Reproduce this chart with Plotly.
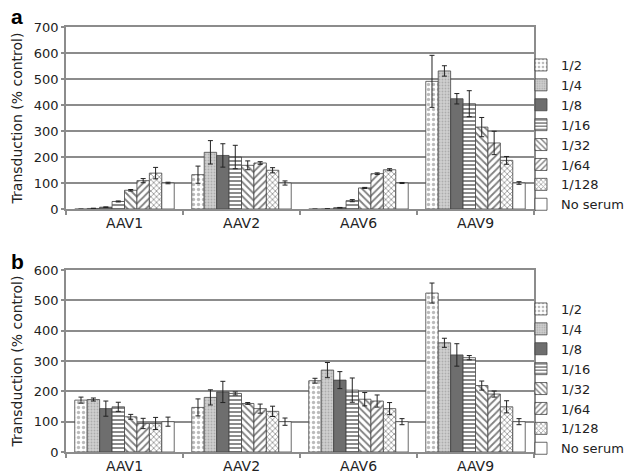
import plotly.graph_objects as go

categories = ["AAV1", "AAV2", "AAV6", "AAV9"]
series_names = ["1/2", "1/4", "1/8", "1/16", "1/32", "1/64", "1/128", "No serum"]

# Panel a values (rows: series, columns: AAV1, AAV2, AAV6, AAV9)
a_vals = [
    [-1, 132, -1, 491],
    [2, 218, 0, 531],
    [7, 206, 5, 424],
    [29, 200, 32, 405],
    [72, 168, 81, 315],
    [109, 177, 136, 254],
    [138, 149, 151, 187],
    [100, 100, 100, 100],
]
a_err = [
    [1, 33, 1, 100],
    [1, 45, 1, 20],
    [1, 45, 1, 20],
    [2, 45, 4, 50],
    [3, 17, 2, 37],
    [8, 5, 3, 45],
    [22, 10, 4, 15],
    [3, 8, 2, 5],
]
# Panel b values
b_vals = [
    [171, 147, 235, 524],
    [173, 180, 270, 360],
    [143, 198, 237, 320],
    [149, 193, 204, 311],
    [116, 160, 174, 219],
    [94, 143, 168, 191],
    [94, 134, 143, 149],
    [100, 100, 100, 100],
]
b_err = [
    [10, 28, 8, 33],
    [5, 25, 25, 15],
    [25, 35, 28, 37],
    [15, 5, 40, 7],
    [8, 3, 22, 15],
    [17, 15, 20, 10],
    [20, 17, 20, 20],
    [15, 12, 10, 10],
]
a_ticks = [0, 100, 200, 300, 400, 500, 600, 700]
b_ticks = [0, 100, 200, 300, 400, 500, 600]

styles = [
    dict(color="white", shape=".", fg="#777777", size=5, sol=0.35),
    dict(color="#d0d0d0", shape=".", fg="#888888", size=3, sol=0.3),
    dict(color="#6e6e6e", shape="", fg="#6e6e6e", size=4, sol=0.3),
    dict(color="white", shape="-", fg="black", size=4, sol=0.45),
    dict(color="white", shape="\\", fg="black", size=5, sol=0.35),
    dict(color="white", shape="/", fg="black", size=5, sol=0.35),
    dict(color="white", shape="x", fg="#333333", size=4, sol=0.4),
    dict(color="white", shape="", fg="black", size=4, sol=0.3),
]

FONT = "DejaVu Sans, sans-serif"
TXT = "#222222"
fig = go.Figure()

for panel, (vals, errs, yax, xax, leg) in enumerate([
    (a_vals, a_err, "y", "x", "legend"),
    (b_vals, b_err, "y2", "x2", "legend2"),
]):
    for i, name in enumerate(series_names):
        s = styles[i]
        fig.add_trace(go.Bar(
            x=categories, y=vals[i], name=name,
            xaxis=xax, yaxis=yax, legend=leg,
            marker=dict(
                color=s["color"],
                line=dict(color="#444444", width=0.8),
                pattern=dict(shape=s["shape"], fgcolor=s["fg"], size=s["size"],
                             solidity=s["sol"]),
            ),
            error_y=dict(type="data", array=errs[i], color="#222222",
                         thickness=1, width=2.5),
        ))

axis_common = dict(showline=True, linecolor="#8c8c8c", linewidth=1.5, mirror=True)
xcommon = dict(
    **axis_common, ticks="outside", tickson="boundaries", ticklen=4,
    tickcolor="#8c8c8c", tickwidth=1.5,
    tickfont=dict(family=FONT, size=14, color=TXT),
    automargin=False,
)
ycommon = dict(
    **axis_common, showgrid=True, gridcolor="#8c8c8c", gridwidth=1.5,
    ticks="outside", ticklen=3, tickcolor="#8c8c8c", tickwidth=1.5,
    tickfont=dict(family=FONT, size=13, color=TXT),
    automargin=False, zeroline=False,
    title=dict(text="Transduction (% control)",
               font=dict(family=FONT, size=14, color=TXT), standoff=8),
)

W, H = 633, 476
x0, x1 = 66 / W, 534 / W

legend_common = dict(xanchor="left", yanchor="top", bgcolor="rgba(0,0,0,0)",
                     itemwidth=30, tracegroupgap=0,
                     font=dict(family=FONT, size=13, color=TXT))

fig.update_layout(
    width=W, height=H,
    margin=dict(l=0, r=0, t=0, b=0),
    paper_bgcolor="white", plot_bgcolor="white",
    barmode="group", bargap=0.15, bargroupgap=0,
    font=dict(family=FONT, size=14, color=TXT),
    xaxis=dict(**xcommon, domain=[x0, x1], anchor="y"),
    yaxis=dict(**ycommon, domain=[1 - 209 / H, 1 - 27 / H], range=[0, 700],
               tickvals=a_ticks, anchor="x"),
    xaxis2=dict(**xcommon, domain=[x0, x1], anchor="y2"),
    yaxis2=dict(**ycommon, domain=[1 - 452 / H, 1 - 270 / H], range=[0, 600],
                tickvals=b_ticks, anchor="x2"),
    legend=dict(**legend_common, x=521 / W, y=1 - 50 / H),
    legend2=dict(**legend_common, x=521 / W, y=1 - 294 / H),
    annotations=[
        dict(text="<b>a</b>", x=9 / W, y=1 - 3 / H, xref="paper", yref="paper",
             xanchor="left", yanchor="top", showarrow=False,
             font=dict(family="Liberation Sans, Arial, sans-serif", size=21, color="black")),
        dict(text="<b>b</b>", x=9 / W, y=1 - 248 / H, xref="paper", yref="paper",
             xanchor="left", yanchor="top", showarrow=False,
             font=dict(family="Liberation Sans, Arial, sans-serif", size=21, color="black")),
    ],
)

fig.write_html("out.html", config={"displayModeBar": False},
               post_script="document.body.style.margin='0';document.body.style.overflow='hidden';")
